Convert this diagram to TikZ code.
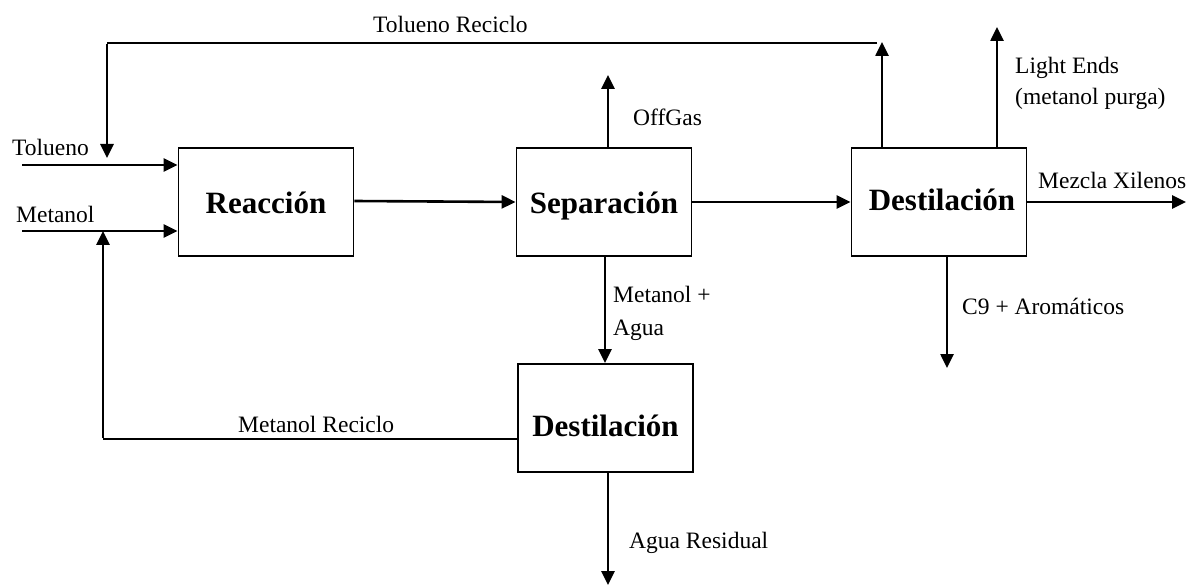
\documentclass[tikz,border=0pt]{standalone}
\usepackage{fontspec}
\setmainfont{Liberation Serif}
\usetikzlibrary{arrows.meta}
\begin{document}
\begin{tikzpicture}[x=1pt,y=-1pt,
  unitbox/.style={draw, line width=1.8pt, minimum width=175pt, minimum height=108pt, inner sep=0pt,
    text height=30pt, text depth=6pt,
    font=\fontsize{31}{36}\selectfont\bfseries},
  lbl/.style={inner sep=0pt, anchor=base west, font=\fontsize{23.5}{28}\selectfont},
  arr/.style={line width=2.6pt, -{Triangle[length=14pt,width=13pt]}},
  thinline/.style={line width=1.4pt}]
\useasboundingbox (0,0) rectangle (1186,585);
% units
\node[unitbox] (R) at (266,202) {Reacción};
\node[unitbox] (S) at (604,202) {Separación};
\node[unitbox] (D1) at (939,202) {\hspace*{6pt}\raisebox{3pt}{Destilación}};
\node[unitbox] (D2) at (605.5,418) {\raisebox{-6pt}{Destilación}};
% free ends
\coordinate (tolin) at (22,165);
\coordinate (metin) at (22,231);
\coordinate (og) at (608,75);
\coordinate (trtip) at (882,42);
\coordinate (trend) at (877,43);
\coordinate (trcorner) at (107,43);
\coordinate (trdown) at (107,158);
\coordinate (le) at (997,27);
\coordinate (mx) at (1186,202);
\coordinate (c9) at (947,368);
\coordinate (aw) at (608,585);
\coordinate (mrcorner) at (103,439);
\coordinate (mrtip) at (103,231);
\coordinate (sbot) at (605,256);
% feeds
\draw[arr] (tolin) -- (tolin -| R.west);
\draw[arr] (metin) -- (metin -| R.west);
% main line
\draw[arr] ([yshift=1pt]R.east) -- (S.west);
\draw[arr] (S.east) -- (D1.west);
% offgas
\draw[arr] (og |- S.north) -- (og);
% toluene recycle
\draw[arr] (trtip |- D1.north) -- (trtip);
\draw[thinline] (trend) -- (trcorner);
\draw[arr] ([yshift=-1pt]trcorner) -- (trdown);
% light ends
\draw[arr] (le |- D1.north) -- (le);
% xylenes
\draw[arr] (D1.east) -- (mx);
% C9
\draw[arr] (c9 |- D1.south) -- (c9);
% separation to distillation 2
\draw[arr] (sbot) -- (sbot |- D2.north);
% waste water
\draw[arr] (aw |- D2.south) -- (aw);
% methanol recycle
\draw[thinline] (mrcorner -| D2.west) -- (mrcorner);
\draw[arr] ([yshift=1pt]mrcorner) -- (mrtip);
% labels
\node[lbl] (ltol) at (12,156) {Tolueno};
\node[lbl] (lmet) at (16,223) {Metanol};
\node[lbl] (ltr) at (373,33) {Tolueno Reciclo};
\node[lbl] (log) at (633,126) {OffGas};
\node[lbl] (lle1) at (1015,74) {Light Ends};
\node[lbl] (lle2) at (1015,105) {(metanol purga)};
\node[lbl] (lmx) at (1038,189) {Mezcla Xilenos};
\node[lbl] (lc9) at (962,315) {C9 + Aromáticos};
\node[lbl] (lma1) at (613,303) {Metanol +};
\node[lbl] (lma2) at (613,335) {Agua};
\node[lbl] (lmr) at (238,432) {Metanol Reciclo};
\node[lbl] (law) at (629,548) {Agua Residual};
\end{tikzpicture}
\end{document}
